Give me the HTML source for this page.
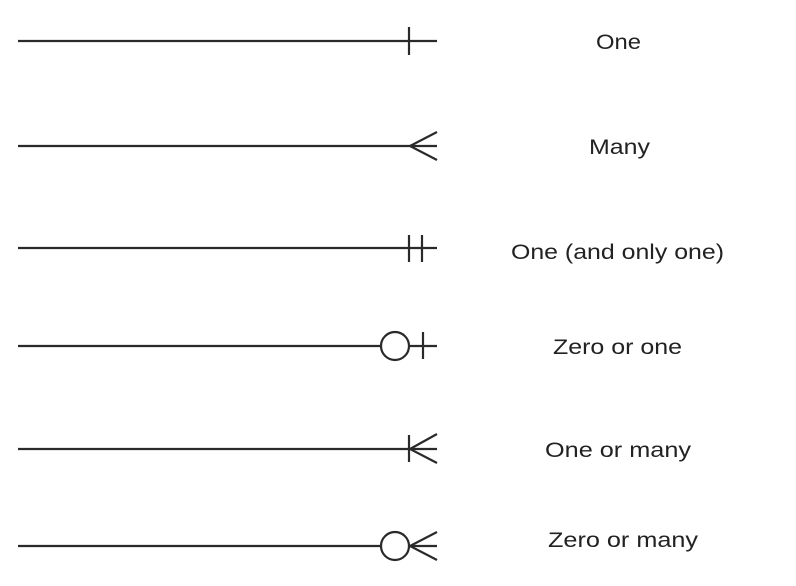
<!DOCTYPE html>
<html><head><style>
html,body{margin:0;padding:0;background:#fff;}
svg{display:block}
text{font-family:"Liberation Sans",sans-serif;font-size:21px;fill:#222;}
</style></head><body>
<svg width="796" height="586" viewBox="0 0 796 586">
<g stroke="#2a2a2a" stroke-width="2.2" fill="none">
<line x1="18" y1="41" x2="437" y2="41"/><line x1="409" y1="27" x2="409" y2="55"/>
<line x1="18" y1="146" x2="437" y2="146"/><polyline points="437,132 410,146 437,160"/>
<line x1="18" y1="248" x2="437" y2="248"/><line x1="409" y1="235" x2="409" y2="262"/><line x1="422" y1="235" x2="422" y2="262"/>
<line x1="18" y1="346" x2="381" y2="346"/><circle cx="395" cy="346" r="14"/><line x1="409" y1="346" x2="437" y2="346"/><line x1="423" y1="332" x2="423" y2="359"/>
<line x1="18" y1="449" x2="437" y2="449"/><line x1="409" y1="435" x2="409" y2="462"/><polyline points="437,434 410,449 437,463"/>
<line x1="18" y1="546" x2="381" y2="546"/><circle cx="395" cy="546" r="14"/><line x1="409" y1="546" x2="437" y2="546"/><polyline points="437,532 410,546 437,560"/>
</g>
<text x="596" y="49" textLength="45" lengthAdjust="spacingAndGlyphs">One</text>
<text x="589" y="154" textLength="61" lengthAdjust="spacingAndGlyphs">Many</text>
<text x="511" y="259" textLength="213" lengthAdjust="spacingAndGlyphs">One (and only one)</text>
<text x="553" y="354" textLength="129" lengthAdjust="spacingAndGlyphs">Zero or one</text>
<text x="545" y="457" textLength="146" lengthAdjust="spacingAndGlyphs">One or many</text>
<text x="548" y="547" textLength="150" lengthAdjust="spacingAndGlyphs">Zero or many</text>
</svg>
</body></html>
